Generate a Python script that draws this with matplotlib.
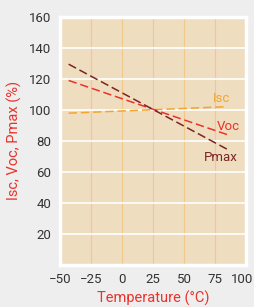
import matplotlib.pyplot as plt
import matplotlib.transforms as mtransforms
import numpy as np

# temperature range of the curves (deg C)
temp = [-43, 85]
isc = [97.9, 102.1]
voc = [119.0, 84.0]
pmax = [129.5, 74.5]

labels = ['Isc', 'Voc', 'Pmax']
label_pos = [(80.5, 107.5), (85.5, 89.5), (80, 69.5)]
colors = ['#f3a530', '#e8332c', '#7b2424']

xticks = [-50, -25, 0, 25, 50, 75, 100]
yticks = [20, 40, 60, 80, 100, 120, 140, 160]

plt.rcParams['font.family'] = ['Roboto', 'DejaVu Sans']

fig = plt.figure(figsize=(2.54, 3.07), dpi=100)
fig.patch.set_facecolor('#eeeeee')
ax = fig.add_axes([0.236, 0.137, 0.733, 0.808])
ax.set_facecolor('#efddbf')

ax.set_xlim(-50, 100)
ax.set_ylim(0, 160)

for x in xticks[1:-1]:
    ax.axvline(x, color='#f0c98a', lw=0.8, zorder=1)
for y in yticks[:-1]:
    ax.axhline(y, color='white', lw=1.2, zorder=1)

for vals, c in zip([isc, voc, pmax], colors):
    ax.plot(temp, vals, color=c, lw=1.1, ls=(0, (5.5, 2.5)), zorder=3)

for lab, (x, y), c in zip(labels, label_pos, colors):
    ax.text(x, y, lab, color=c, fontsize=9.5, ha='center', va='center')

for s in ax.spines.values():
    s.set_color('white')
    s.set_linewidth(2.5)

ax.set_xticks(xticks)
ax.set_yticks(yticks)
ax.tick_params(length=0, labelsize=9.5, colors='#333333', pad=6)
# nudge the last x label left so it stays inside the figure
last = ax.get_xticklabels()[-1]
last.set_transform(last.get_transform() +
                   mtransforms.ScaledTranslation(-4 / 100, 0, fig.dpi_scale_trans))
ax.set_xlabel('Temperature (°C)', color='#e8332c', fontsize=10.5, labelpad=3)
ax.set_ylabel('Isc, Voc, Pmax (%)', color='#e8332c', fontsize=10.5, labelpad=5)

fig.savefig('out.png', dpi=100, facecolor=fig.get_facecolor())
